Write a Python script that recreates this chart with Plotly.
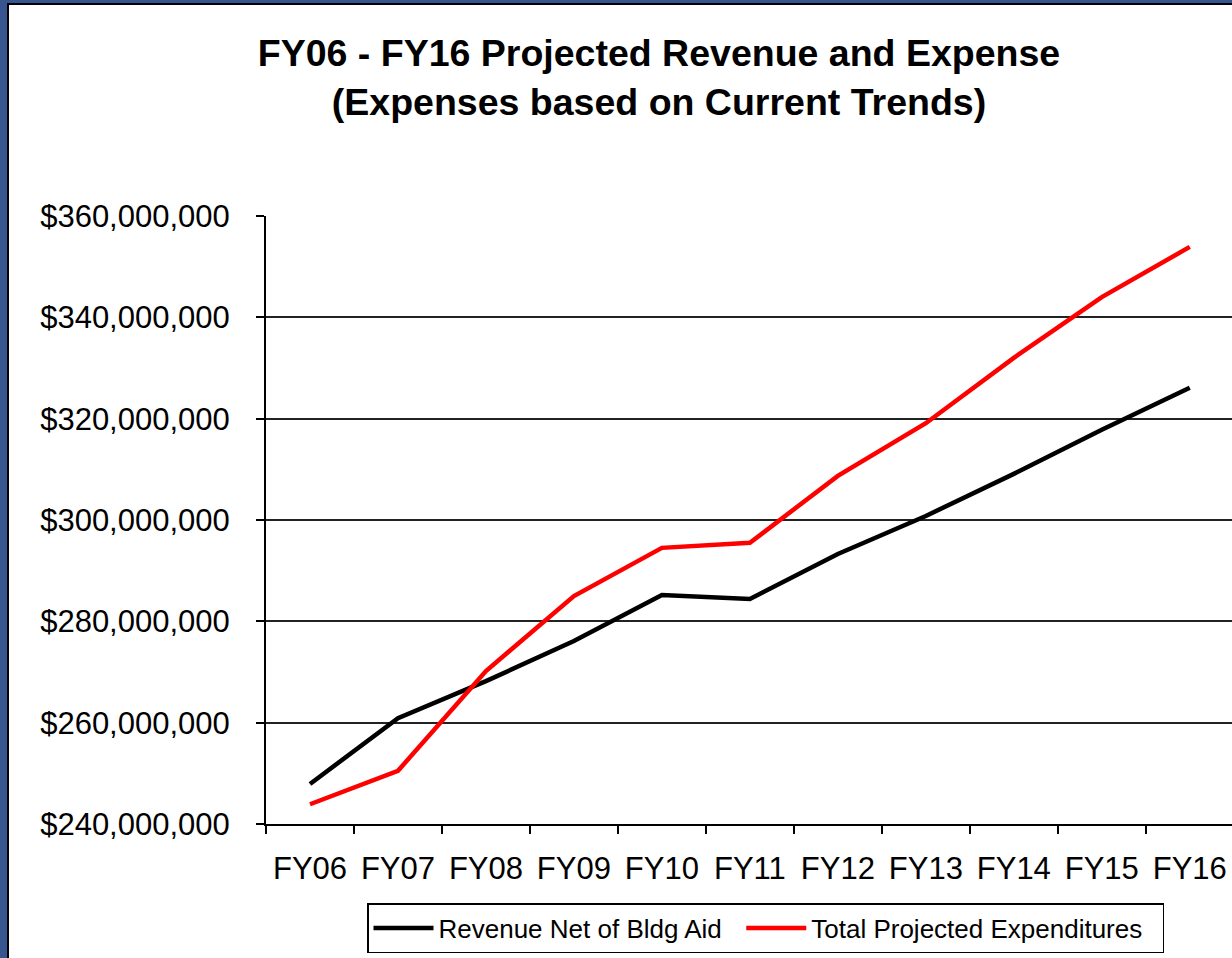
import plotly.graph_objects as go

years = ["FY06", "FY07", "FY08", "FY09", "FY10", "FY11", "FY12", "FY13", "FY14", "FY15", "FY16"]
revenue = [247.9, 260.9, 268.2, 276.1, 285.2, 284.4, 293.3, 300.8, 309.1, 317.8, 326.1]
expenses = [243.9, 250.5, 270.2, 285.0, 294.5, 295.5, 308.7, 319.1, 332.0, 344.0, 353.9]
y_ticks = [240, 260, 280, 300, 320, 340, 360]

W, H = 1232, 958
L, T, B = 266, 216, 134
FONT = "Liberation Sans, Arial, sans-serif"
FRAME = "#37558f"
NBSP = "\u00a0"

fig = go.Figure()
fig.add_trace(go.Scatter(x=years, y=[v * 1e6 for v in revenue], mode="lines",
                         name="Revenue Net of Bldg Aid" + NBSP * 2,
                         line=dict(color="black", width=4.5)))
fig.add_trace(go.Scatter(x=years, y=[v * 1e6 for v in expenses], mode="lines",
                         name="Total Projected Expenditures" + NBSP * 2,
                         line=dict(color="#ff0000", width=4.5)))

# white slide panel on blue frame
px_w = W - L
px_h = H - T - B
fig.add_shape(type="rect", xref="paper", yref="paper", layer="below",
              x0=(8 - L) / px_w, x1=1.05, y0=-(B + 20) / px_h, y1=(H - B - 4) / px_h,
              fillcolor="white", line=dict(color="black", width=2))

fig.update_layout(
    width=W, height=H,
    margin=dict(l=L, r=0, t=T, b=B),
    paper_bgcolor=FRAME,
    plot_bgcolor="rgba(0,0,0,0)",
    font=dict(family=FONT, color="black"),
    title=dict(text="<b>FY06 - FY16 Projected Revenue and Expense<br>(Expenses based on Current Trends)</b>",
               x=659 / W, xref="container", xanchor="center",
               y=1 - 66 / H, yref="container", yanchor="top",
               font=dict(size=37.5, family=FONT, color="black")),
    showlegend=True,
    legend=dict(orientation="h", xref="container", yref="container",
                x=367 / W, xanchor="left", y=1 - 903 / H, yanchor="top",
                bordercolor="black", borderwidth=1.5, bgcolor="white",
                itemwidth=60,
                font=dict(size=26, family=FONT, color="black")),
)

fig.update_xaxes(range=[-0.5, 10.48], showline=True, linecolor="black", linewidth=2,
                 ticks="outside", tickson="boundaries", ticklen=8, tickcolor="black", tickwidth=1.5,
                 showgrid=False, tickfont=dict(size=31, family=FONT, color="black"),
                 ticklabelstandoff=16)
fig.update_yaxes(range=[240e6, 360e6], tickvals=[v * 1e6 for v in y_ticks],
                 ticktext=["${:,.0f}".format(v * 1e6) for v in y_ticks],
                 showline=True, linecolor="black", linewidth=2,
                 ticks="outside", ticklen=8, tickcolor="black", tickwidth=1.5,
                 showgrid=True, gridcolor="#222222", gridwidth=1.5, zeroline=False,
                 tickfont=dict(size=31, family=FONT, color="black"),
                 ticklabelstandoff=20)

fig.write_html("out.html", config={"displayModeBar": False},
               post_script="document.body.style.margin='0';"
                           "document.body.style.overflow='hidden';"
                           "document.body.style.background='" + FRAME + "';")
